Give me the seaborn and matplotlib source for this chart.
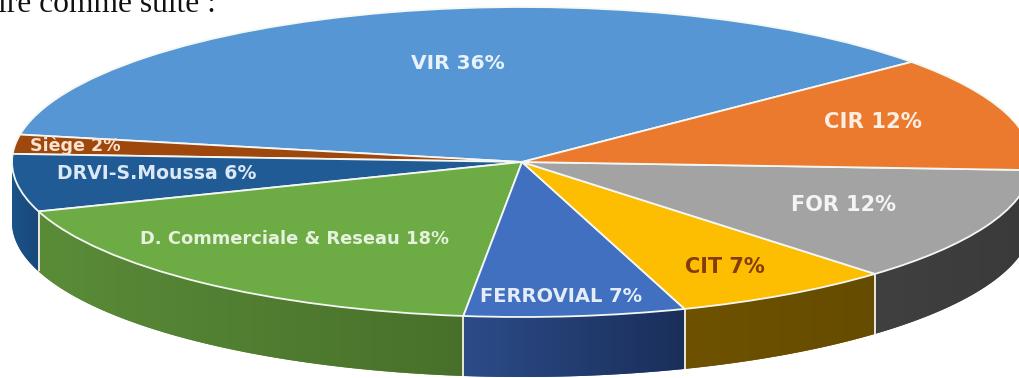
import numpy as np
import matplotlib
matplotlib.use("Agg")
import matplotlib.pyplot as plt
from matplotlib.patches import Polygon
from matplotlib.colors import LinearSegmentedColormap
import seaborn as sns

# Service shares, listed counter-clockwise from the VIR slice
services = ["VIR", "Siège", "DRVI-S.Moussa", "D. Commerciale & Reseau",
            "FERROVIAL", "CIT", "FOR", "CIR"]
shares = [36, 2, 6, 18, 7, 7, 12, 12]

top_colors = ["#5796d4", "#9e480e", "#215b96", "#6dab45",
              "#4170c0", "#fdbd00", "#a3a3a3", "#ec7a2e"]
wall_left = ["#2f5f8f", "#5e3009", "#1b5288", "#5a8c38",
             "#2c4c88", "#6e5200", "#404040", "#404040"]
wall_right = ["#2f5f8f", "#5e3009", "#19487a", "#48702a",
              "#1a2e5a", "#664c00", "#3a3a3a", "#3a3a3a"]
label_colors = ["#e9f2fa", "#fbe3cf", "#dbe8f5", "#e6f2dd",
                "#e4ecf8", "#843c0c", "#f4f4f4", "#fdeee2"]

# Label anchors (canvas pixels) and font sizes
label_px = [(458, 64), (75, 146), (157, 174), (295, 239),
            (561, 297), (725, 267), (844, 205), (873, 122)]
label_pt = [14.5, 12.6, 13.6, 12.9, 14.0, 15.0, 15.0, 15.2]

WIDTH, HEIGHT = 1019, 378
CX, CY, RX, RY = 522, 162, 510, 155
DEPTH = 60 / RY
START = 40.2


def to_data(px, py):
    return (px - CX) / RX, (CY - py) / RY


sns.set_theme(style="white")
plt.rcParams["font.family"] = ["DejaVu Sans"]

fig = plt.figure(figsize=(WIDTH / 100, HEIGHT / 100), dpi=100)
ax = fig.add_axes([0, 0, 1, 1])

# Side wall of the disc: only the part facing the viewer, shaded left to right
edges = START + np.cumsum([0] + shares) * 3.6
x0, x1 = to_data(0, 0)[0], to_data(WIDTH, 0)[0]
for i in range(len(shares)):
    a0 = edges[i]
    a1 = edges[i + 1]
    lo, hi = max(a0, 180), min(a1, 360)
    if hi <= lo:
        continue
    th = np.radians(np.linspace(lo, hi, 120))
    xs, ys = np.cos(th), np.sin(th)
    outline = np.column_stack([np.r_[xs, xs[::-1]], np.r_[ys, ys[::-1] - DEPTH]])
    wall = Polygon(outline, closed=True, facecolor=wall_left[i], edgecolor="none", zorder=1)
    ax.add_patch(wall)
    cmap = LinearSegmentedColormap.from_list("wall", [wall_left[i], wall_right[i]])
    img = ax.imshow(np.linspace(0, 1, 128).reshape(1, -1), cmap=cmap, aspect="auto",
                    extent=(xs.min(), xs.max(), ys.min() - DEPTH, ys.max()), zorder=1.1)
    img.set_clip_path(wall)
    for a in (a0, a1):
        if 180 < a % 360 < 358:
            t = np.radians(a)
            ax.plot([np.cos(t)] * 2, [np.sin(t), np.sin(t) - DEPTH],
                    color="#e6e4d6", lw=1.4, zorder=1.2, solid_capstyle="butt")

# Top face of the disc
ax.pie(shares, colors=sns.color_palette(top_colors), startangle=START, counterclock=True,
       radius=1, wedgeprops={"edgecolor": "#f4f7f2", "linewidth": 1.3, "zorder": 2})

# Flatten the disc and map the axes onto the full canvas
ax.set_aspect("auto")
ax.set_xlim(x0, x1)
ax.set_ylim(to_data(0, HEIGHT)[1], to_data(0, 0)[1])
ax.axis("off")

for name, share, pos, size, col in zip(services, shares, label_px, label_pt, label_colors):
    x, y = to_data(*pos)
    ax.text(x, y, f"{name} {share}%", ha="center", va="center", fontsize=size,
            fontweight="bold", color=col, zorder=3)

# Line of running text cropped by the top of the scan
fig.text(-2 / WIDTH, 1 - 12 / HEIGHT, "ire comme suite :", family="Liberation Serif",
         fontsize=22.7, color="#111111", ha="left", va="baseline")

fig.savefig("out.png", dpi=100, facecolor="white")
